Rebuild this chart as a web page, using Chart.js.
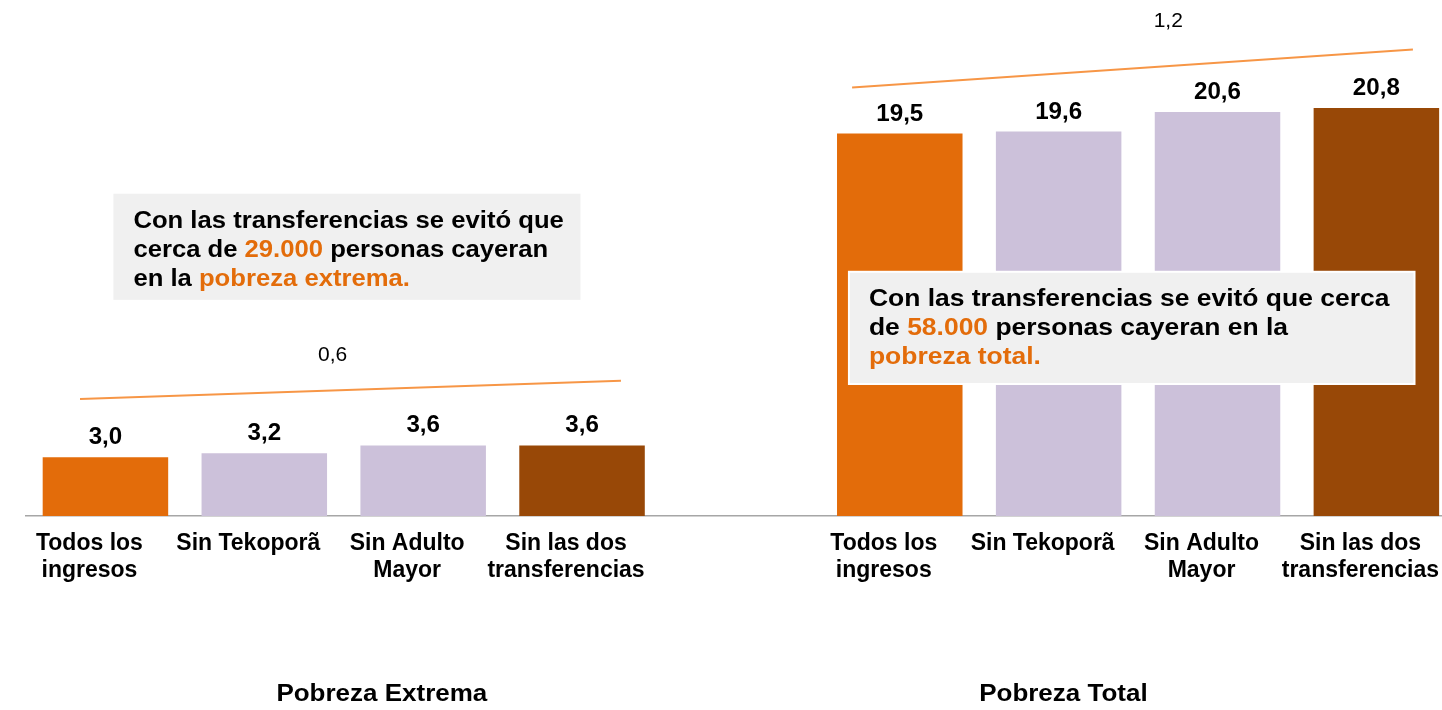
<!DOCTYPE html>
<html>
<head>
<meta charset="utf-8">
<script src="https://cdn.jsdelivr.net/npm/chart.js@4/dist/chart.umd.min.js"></script>
<style>
  html, body { margin: 0; padding: 0; overflow: hidden; background: #fff; }
  #wrap { width: 1469px; height: 710px; position: relative; }
</style>
</head>
<body>
<div id="wrap"><canvas id="c"></canvas></div>
<script>
// categories (middle slot left empty as gap between the two groups)
var labels = [
    ["Todos los", "ingresos"], "Sin Tekoporã", ["Sin Adulto", "Mayor"], ["Sin las dos", "transferencias"],
    "",
    ["Todos los", "ingresos"], "Sin Tekoporã", ["Sin Adulto", "Mayor"], ["Sin las dos", "transferencias"]
];
var values = [3.0, 3.2, 3.6, 3.6, null, 19.5, 19.6, 20.6, 20.8];
var colors = ["#E36C0A", "#CCC1DA", "#CCC1DA", "#984807", null, "#E36C0A", "#CCC1DA", "#CCC1DA", "#984807"];

var groupNames = ["Pobreza Extrema", "Pobreza Total"];
var groupAt = [1.74, 6.03];

// difference lines: [x0, y0, x1, y1] in category index / value
var diffLines = [[-0.16, 5.97, 3.245, 6.89], [4.70, 21.84, 8.23, 23.78]];
var diffText = ["0,6", "1,2"];
var diffTextAt = [[1.43, 8.2], [6.69, 25.2]];

// note boxes: [x0, y0, x1, y1]
var noteBoxes = [[0.05, 16.43, 2.99, 11.02], [4.68, 12.45, 8.24, 6.73]];
var noteLines = [
    [[["Con las transferencias se evitó que", "#000"]],
     [["cerca de ", "#000"], ["29.000", "#E36C0A"], [" personas cayeran", "#000"]],
     [["en la ", "#000"], ["pobreza extrema.", "#E36C0A"]]],
    [[["Con las transferencias se evitó que cerca", "#000"]],
     [["de ", "#000"], ["58.000", "#E36C0A"], [" personas cayeran en la", "#000"]],
     [["pobreza total.", "#E36C0A"]]]
];

var FONT = "'Liberation Sans', Arial, sans-serif";

// text drawn a bit wider, like the original slide
function wideText(ctx, txt, x, y, sx) {
    ctx.save();
    ctx.translate(x, y);
    ctx.scale(sx, 1);
    ctx.fillText(txt, 0, 0);
    ctx.restore();
    return ctx.measureText(txt).width * sx;
}

var extras = {
    id: "extras",
    afterDatasetsDraw: function(chart) {
        var ctx = chart.ctx, x = chart.scales.x, y = chart.scales.y;
        ctx.save();

        // value labels
        var meta = chart.getDatasetMeta(0);
        ctx.font = "bold 23px " + FONT;
        ctx.fillStyle = "#000";
        ctx.textAlign = "center";
        ctx.textBaseline = "alphabetic";
        meta.data.forEach(function(bar, i) {
            if (values[i] == null) return;
            wideText(ctx, values[i].toFixed(1).replace(".", ","), bar.x, bar.y - 13, 1.05);
        });

        // difference lines
        ctx.strokeStyle = "#F79646";
        ctx.lineWidth = 2;
        diffLines.forEach(function(l, i) {
            ctx.beginPath();
            ctx.moveTo(x.getPixelForValue(l[0]), y.getPixelForValue(l[1]));
            ctx.lineTo(x.getPixelForValue(l[2]), y.getPixelForValue(l[3]));
            ctx.stroke();
            ctx.font = "21px " + FONT;
            ctx.fillStyle = "#000";
            ctx.textBaseline = "middle";
            ctx.fillText(diffText[i], x.getPixelForValue(diffTextAt[i][0]), y.getPixelForValue(diffTextAt[i][1]));
        });

        // note boxes
        noteBoxes.forEach(function(b, i) {
            var x0 = x.getPixelForValue(b[0]), x1 = x.getPixelForValue(b[2]);
            var y0 = y.getPixelForValue(b[1]), y1 = y.getPixelForValue(b[3]);
            ctx.fillStyle = "#F0F0F0";
            ctx.fillRect(x0, y0, x1 - x0, y1 - y0);
            if (i == 1) {
                ctx.strokeStyle = "#fff";
                ctx.lineWidth = 2;
                ctx.strokeRect(x0, y0, x1 - x0, y1 - y0);
            }
            ctx.font = "bold 23px " + FONT;
            ctx.textAlign = "left";
            ctx.textBaseline = "alphabetic";
            var sx = i == 0 ? 1.115 : 1.15;
            noteLines[i].forEach(function(line, j) {
                var tx = x0 + 20;
                var ty = y0 + 34 + j * 29;
                line.forEach(function(seg) {
                    ctx.fillStyle = seg[1];
                    tx += wideText(ctx, seg[0], tx, ty, sx);
                });
            });
        });

        // group names
        ctx.font = "bold 23px " + FONT;
        ctx.fillStyle = "#000";
        ctx.textAlign = "center";
        ctx.textBaseline = "middle";
        groupNames.forEach(function(g, i) {
            wideText(ctx, g, x.getPixelForValue(groupAt[i]), 695, 1.13);
        });
        ctx.restore();
    }
};

var chart = new Chart(document.getElementById("c"), {
    type: "bar",
    data: {
        labels: labels,
        datasets: [{
            data: values,
            backgroundColor: colors,
            categoryPercentage: 1,
            barPercentage: 0.79
        }]
    },
    options: {
        responsive: true,
        maintainAspectRatio: false,
        animation: false,
        layout: { padding: { left: 26, right: 0, top: 6, bottom: 0 } },
        plugins: { legend: { display: false }, tooltip: { enabled: false } },
        scales: {
            x: {
                grid: { display: false, drawTicks: false },
                border: { display: true, color: "#A6A6A6", width: 1.5 },
                ticks: {
                    autoSkip: false, maxRotation: 0, padding: 14,
                    labelOffset: -16,
                    color: "#000",
                    font: { family: FONT, size: 23, weight: "bold", lineHeight: 1.18 }
                },
                afterFit: function(scale) { scale.height = 194; }
            },
            y: {
                display: false,
                min: 0,
                max: 26
            }
        }
    },
    plugins: [extras]
});
</script>
</body>
</html>
